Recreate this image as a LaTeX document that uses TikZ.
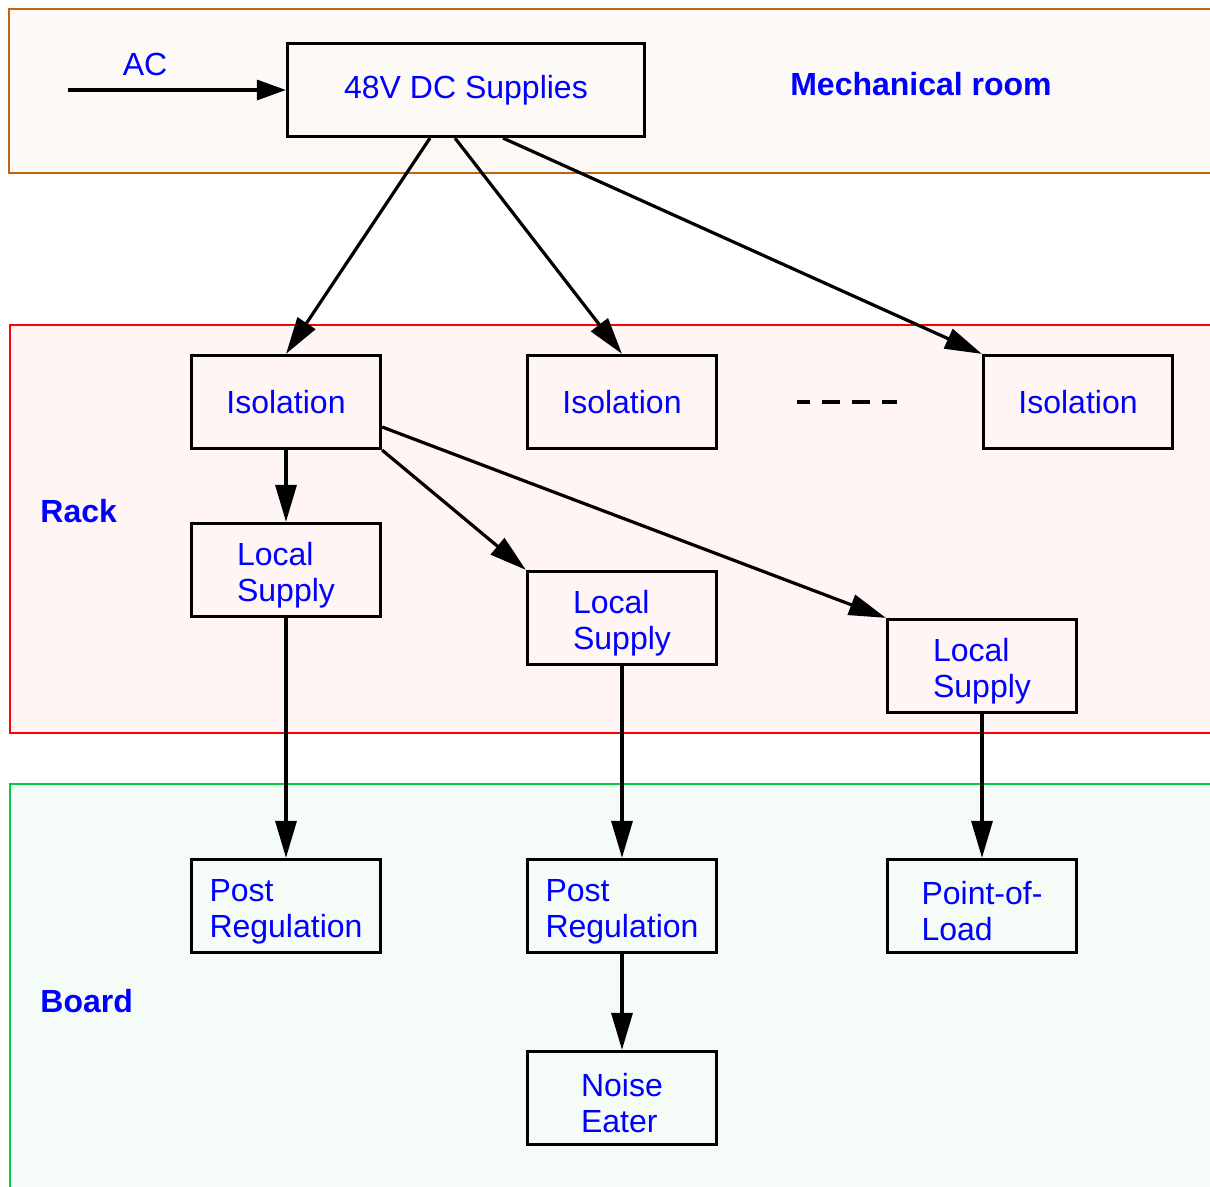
\documentclass[tikz,border=0pt]{standalone}
\usepackage{fontspec}
\setmainfont{Liberation Sans}
\usetikzlibrary{positioning, arrows.meta, calc}

\definecolor{mechline}{RGB}{190,100,20}
\definecolor{mechfill}{RGB}{252,249,246}
\definecolor{rackline}{RGB}{255,0,0}
\definecolor{rackfill}{RGB}{255,245,245}
\definecolor{boardline}{RGB}{0,204,68}
\definecolor{boardfill}{RGB}{245,252,248}
\definecolor{labelblue}{RGB}{0,0,255}

\newcommand{\lift}{\rule{0pt}{16.5pt}}

\tikzset{
    blok/.style={draw, line width=1.6pt, minimum width=94.5pt, minimum height=46.5pt,
        align=left, text=labelblue, font=\fontsize{16}{18}\selectfont},
    zone/.style={line width=0.9pt},
    zonename/.style={inner sep=0pt, text=labelblue, font=\fontsize{16}{18}\selectfont\bfseries},
    flow/.style={every edge/.style={draw, line width=1.6pt, -{Triangle[length=18.5pt,width=10.5pt]}}},
}

\begin{document}
\begin{tikzpicture}[x=0.5pt, y=-0.5pt]
    \useasboundingbox (0,0) rectangle (1210,1187);
    \clip (0,0) rectangle (1210,1187);

    % zones
    \draw[zone, draw=mechline, fill=mechfill] (9,9) rectangle (1240,173);
    \draw[zone, draw=rackline, fill=rackfill] (10,325) rectangle (1240,733);
    \draw[zone, draw=boardline, fill=boardfill] (10,784) rectangle (1240,1220);

    \node[zonename] (mech) at (921,84) {Mechanical room};
    \node[zonename, anchor=west] (rack) at (40,511) {Rack};
    \node[zonename, anchor=west] (board) at (40,1001) {Board};

    % boxes
    \node[blok, minimum width=178.5pt] (dc) at (466,90) {48V DC Supplies};
    \node[blok] (iso1) at (286,402) {Isolation};
    \node[blok] (iso2) at (622,402) {Isolation};
    \node[blok] (iso3) at (1078,402) {Isolation};
    \node[blok] (ls1) at (286,570) {\lift Local\\Supply};
    \node[blok] (ls2) at (622,618) {\lift Local\\Supply};
    \node[blok] (ls3) at (982,666) {\lift Local\\Supply};
    \node[blok] (pr1) at (286,906) {\lift Post\\Regulation};
    \node[blok] (pr2) at (622,906) {\lift Post\\Regulation};
    \node[blok] (pol) at (982,906) {\lift Point-of-\\Load};
    \node[blok] (ne) at (622,1098) {\lift Noise\\Eater};

    \coordinate (acin) at (68,90);
    \node[inner sep=0pt, text=labelblue, font=\fontsize{16}{18}\selectfont] (ac) at (145,64) {AC};

    \coordinate (gapa) at (797,402);
    \coordinate (gapb) at (897,402);
    \draw[line width=1.6pt, dash pattern=on 9pt off 6pt, dash phase=2.5pt] (gapa) -- (gapb);

    \path[flow]
        (acin) edge[-{Triangle[length=14.5pt,width=10pt]}] (dc)
        ($(dc.south)+(-36,0)$) edge (iso1.north)
        ($(dc.south)+(-11,0)$) edge (iso2.north)
        ($(dc.south)+(37,0)$) edge (iso3.north west)
        (iso1) edge (ls1)
        (iso1.south east) edge (ls2.north west)
        ($(iso1.east)+(0,25)$) edge (ls3.north west)
        (ls1) edge (pr1)
        (ls2) edge (pr2)
        (ls3) edge (pol)
        (pr2) edge (ne)
        ;
\end{tikzpicture}
\end{document}
